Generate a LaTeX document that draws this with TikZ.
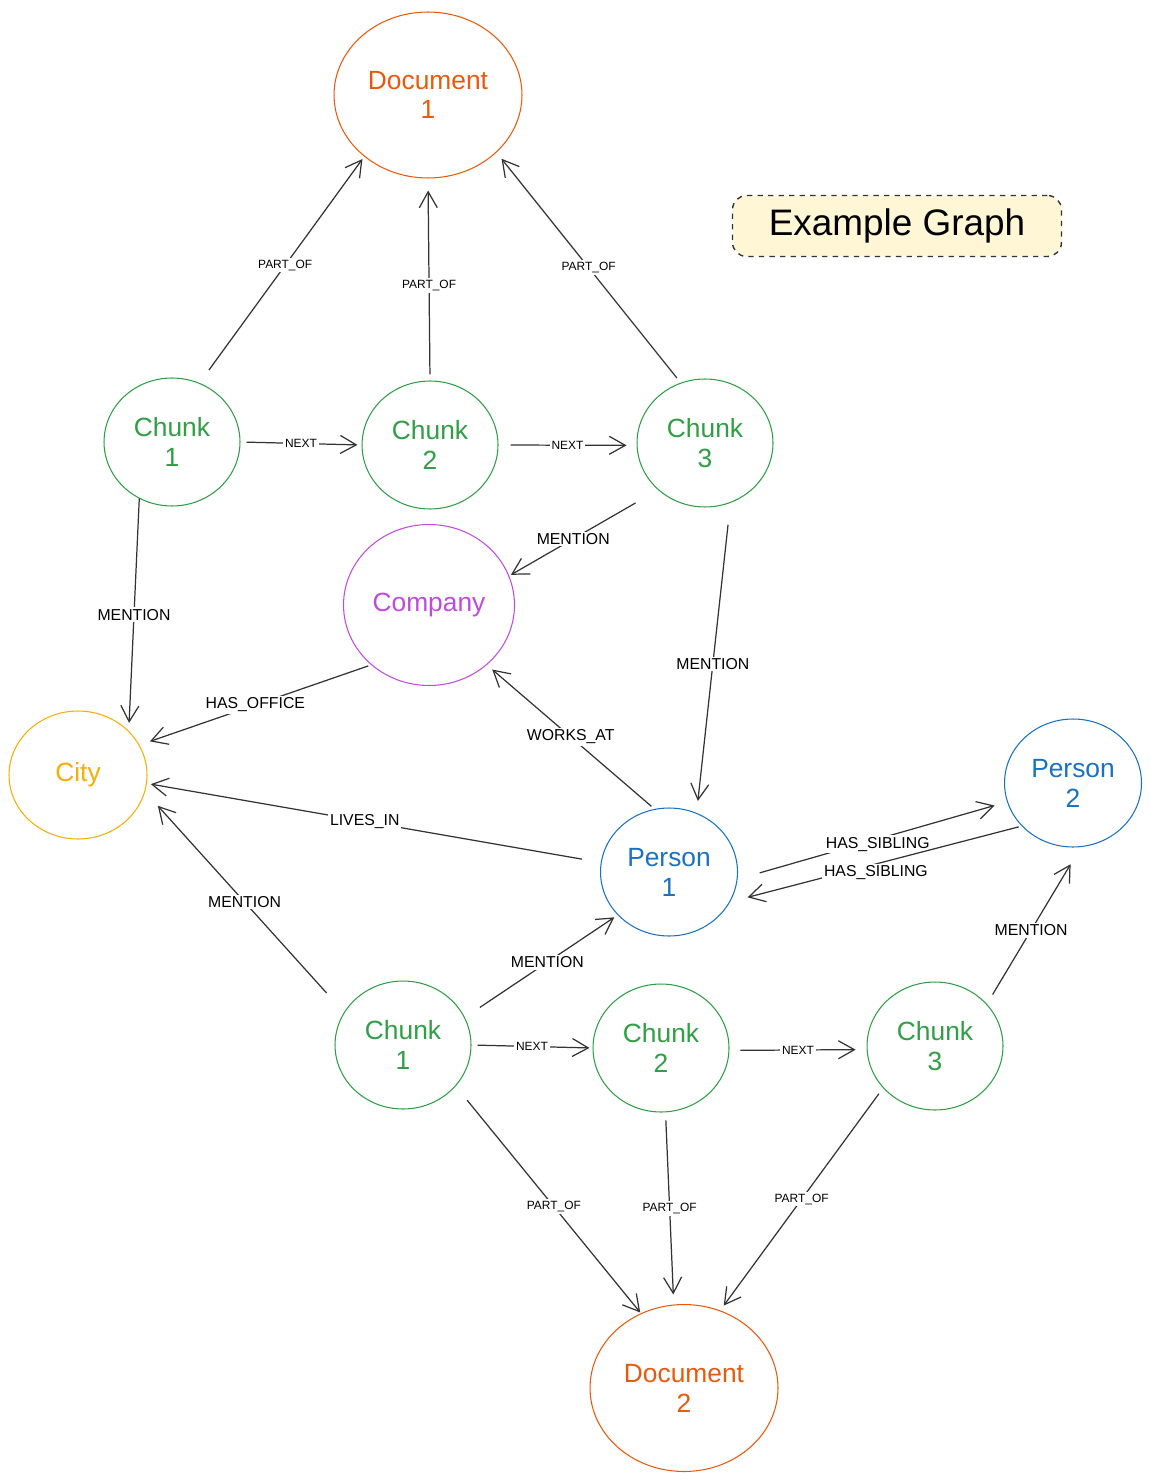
\documentclass[tikz,border=0pt]{standalone}
\usepackage{fontspec}
\setmainfont{Liberation Sans}
\usetikzlibrary{arrows.meta,shapes.geometric}

\definecolor{chunkgreen}{HTML}{2F9E44}
\definecolor{docorange}{HTML}{E8590C}
\definecolor{compurple}{HTML}{BE4BDB}
\definecolor{cityyellow}{HTML}{F7AE05}
\definecolor{perblue}{HTML}{1971C2}
\definecolor{edgegray}{HTML}{333333}
\definecolor{notefill}{HTML}{FFF6D5}

\tikzset{
  ent/.style={ellipse,draw=#1,text=#1,line width=0.6pt,inner sep=0pt,align=center,
    font=\fontsize{15}{17}\selectfont},
  chunk/.style={ent=chunkgreen,minimum width=2.72cm,minimum height=2.56cm},
  doc/.style={ent=docorange,minimum width=3.76cm,minimum height=3.32cm},
  person/.style={ent=perblue,minimum width=2.74cm,minimum height=2.56cm},
  rel/.style 2 args={->,draw=edgegray,line width=0.7pt,shorten <=#1mm,shorten >=#2mm},
  lbl/.style={fill=white,inner sep=1pt,text=black,font=\fontsize{9}{9}\selectfont},
  slbl/.style={lbl,font=\fontsize{6.8}{7}\selectfont},
  >={Straight Barb[length=3.2mm,width=3.6mm]}
}

\begin{document}
\begin{tikzpicture}[x=0.02cm,y=-0.02cm]
  \useasboundingbox (0,0) rectangle (1151,1483);

  % entities
  \node[doc] (doc1) at (428,95) {Document\\1};
  \node[chunk] (ck1) at (172,442) {Chunk\\1};
  \node[chunk] (ck2) at (430,445) {Chunk\\2};
  \node[chunk] (ck3) at (705,443) {Chunk\\3};
  \node[ent=compurple,minimum width=3.42cm,minimum height=3.22cm] (company) at (429,605) {Company};
  \node[ent=cityyellow,minimum width=2.76cm,minimum height=2.56cm] (city) at (78,775) {City};
  \node[person] (per1) at (669,872) {Person\\1};
  \node[person] (per2) at (1073,783) {Person\\2};
  \node[chunk] (cb1) at (403,1045) {Chunk\\1};
  \node[chunk] (cb2) at (661,1048) {Chunk\\2};
  \node[chunk] (cb3) at (935,1046) {Chunk\\3};
  \node[doc,minimum height=3.34cm] (doc2) at (684,1388) {Document\\2};

  \node[draw=edgegray,dashed,fill=notefill,rounded corners=8pt,line width=0.8pt,
    minimum width=6.58cm,minimum height=1.22cm,font=\fontsize{21}{21}\selectfont]
    (title) at (897,226) {Example Graph};

  % first document
  \draw[rel={3.2}{0.6}] (ck1.65) -- node[slbl,pos=0.52]{PART\_OF} (doc1.224);
  \draw[rel={1.2}{2.4}] (ck2.90) -- node[slbl,pos=0.47]{PART\_OF} (doc1.270);
  \draw[rel={1.2}{1.6}] (ck3.112) -- node[slbl]{PART\_OF} (doc1.320);
  \draw[rel={1.2}{0.8}] (ck1.0) -- node[slbl]{NEXT} (ck2.180);
  \draw[rel={2.4}{2}] (ck2.0) -- node[slbl]{NEXT} (ck3.182);
  \draw[rel={5.2}{0.4}] (ck3.225) -- node[lbl,pos=0.57]{MENTION} (company.20);
  \draw[rel={0}{1.6}] (ck1.240) -- node[lbl]{MENTION} (city.41);
  \draw[rel={4.4}{2.4}] (ck3.293) -- node[lbl,pos=0.52]{MENTION} (per1.65);

  % entities among themselves
  \draw[rel={0.6}{2.2}] (company.226) -- node[lbl]{HAS\_OFFICE} (city.26);
  \draw[rel={0.8}{1.4}] (per1.103) -- node[lbl]{WORKS\_AT} (company.314);
  \draw[rel={3.8}{0.8}] (per1.172) -- node[lbl,pos=0.52]{LIVES\_IN} (city.353);
  \draw[rel={4.6}{2.6}] (per1.354) -- node[lbl,pos=0.52,yshift=-3pt]{HAS\_SIBLING} (per2.196);
  \draw[rel={0.6}{3.6}] (per2.220) -- node[lbl,yshift=-5pt]{HAS\_SIBLING} (per1.334);

  % second document
  \draw[rel={5.2}{3.8}] (cb1.151) -- node[lbl]{MENTION} (city.346);
  \draw[rel={3.6}{0.8}] (cb1.24) -- node[lbl,pos=0.54]{MENTION} (per1.220);
  \draw[rel={2.2}{4}] (cb3.39) -- node[lbl,pos=0.47]{MENTION} (per2.277);
  \draw[rel={1.2}{0.6}] (cb1.0) -- node[slbl]{NEXT} (cb2.180);
  \draw[rel={2.2}{2.2}] (cb2.358) -- node[slbl]{NEXT} (cb3.183);
  \draw[rel={3.6}{0.2}] (cb1.322) -- node[slbl,pos=0.53]{PART\_OF} (doc2.120);
  \draw[rel={1.6}{2}] (cb2.274) -- node[slbl]{PART\_OF} (doc2.97);
  \draw[rel={1.4}{1.2}] (cb3.219) -- node[slbl]{PART\_OF} (doc2.65);
\end{tikzpicture}
\end{document}
